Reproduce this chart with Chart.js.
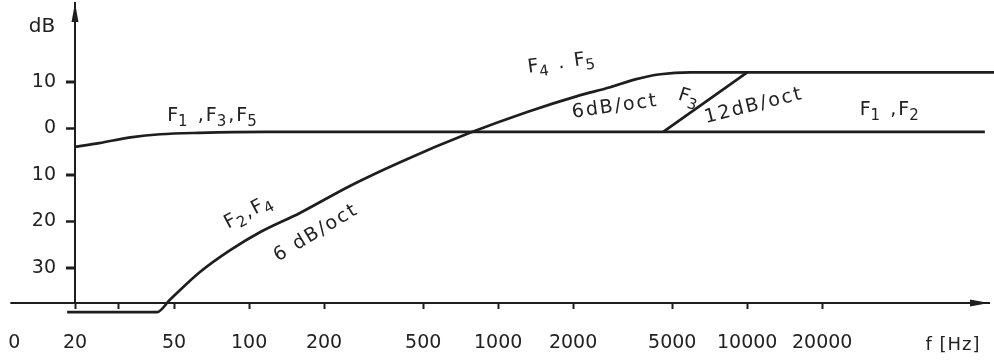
<!DOCTYPE html>
<html>
<head>
<meta charset="utf-8">
<script src="https://cdn.jsdelivr.net/npm/chart.js@4.4.1/dist/chart.umd.min.js"></script>
<style>
    html, body { margin: 0; padding: 0; background: #fff; }
    #wrap { width: 994px; height: 361px; }
</style>
</head>
<body>
<div id="wrap"><canvas id="filterChart"></canvas></div>
<script>
"use strict";

// F1, F3, F5 (continues on the right as F1, F2): slight low-end droop
const shelfFreq = [20, 25, 34, 44, 63, 117, 90000];
const shelfDb = [-4.0, -3.2, -1.9, -1.3, -1.0, -0.8, -0.8];

// F2, F4 rising at 6 dB/oct, levelling off as F4, F5
const riseFreq = [18.6, 42.7, 48, 63.5, 84, 111, 160, 254, 404, 770, 1308, 2078, 2816, 3554, 4480, 5920, 98000];
const riseDb = [-39.5, -39.5, -36.9, -30.9, -26.2, -22.3, -18.2, -12.4, -7.3, -1.0, 3.5, 6.9, 8.8, 10.5, 11.6, 12, 12];

// F3 branch, 12 dB/oct
const f3Freq = [4600, 10000];
const f3Db = [-0.8, 12];

const xTickValues = [11.4, 20, 30, 50, 100, 200, 500, 1000, 2000, 5000, 10000, 20000];
const xTickLabels = ["0", "20", "", "50", "100", "200", "500", "1000", "2000", "5000", "10000", "20000"];
const yTickValues = [-30, -20, -10, 0, 10];

// "_" marks the next character as a subscript
const curveLabels = [
    { text: "F_1 ,F_3,F_5", f: 71.6, db: 2.6, angle: 0 },
    { text: "F_2,F_4", f: 100, db: -18.0, angle: -28 },
    { text: "6 dB/oct", f: 186, db: -22.5, angle: -31 },
    { text: "F_4 . F_5", f: 1806, db: 14.0, angle: -8 },
    { text: "6dB/oct", f: 2950, db: 4.6, angle: -8 },
    { text: "F_3", f: 5860, db: 6.5, angle: 18 },
    { text: "12dB/oct", f: 10640, db: 4.8, angle: -14 },
    { text: "F_1 ,F_2", f: 37500, db: 3.9, angle: 0 }
];

const INK = "#1e1e1e";
const FONT = "'DejaVu Sans', sans-serif";

function toPoints(freqs, values) {
    return freqs.map((f, i) => ({ x: f, y: values[i] }));
}

function curve(label, freqs, values) {
    return {
        label: label,
        data: toPoints(freqs, values),
        borderColor: INK,
        borderWidth: 2.7,
        pointRadius: 0,
        cubicInterpolationMode: "monotone",
        clip: false,
        fill: false
    };
}

function noPadding(scale) {
    scale.paddingLeft = 0;
    scale.paddingRight = 0;
    scale.paddingTop = 0;
    scale.paddingBottom = 0;
}

function splitLabel(text) {
    const parts = [];
    for (let i = 0; i < text.length; i++) {
        if (text[i] === "_" && i + 1 < text.length) {
            parts.push({ t: text[i + 1], sub: true });
            i++;
        } else {
            parts.push({ t: text[i], sub: false });
        }
    }
    return parts;
}

function drawRichText(ctx, text) {
    const parts = splitLabel(text);
    const mainFont = `19px ${FONT}`;
    const subFont = `15px ${FONT}`;
    let width = 0;
    parts.forEach((p, i) => {
        ctx.font = p.sub ? subFont : mainFont;
        p.w = ctx.measureText(p.t).width;
        // subscripts sit tight against their letter
        p.shift = p.sub ? -2 : 0;
        width += p.w + p.shift;
    });
    let cx = -width / 2;
    parts.forEach(p => {
        ctx.font = p.sub ? subFont : mainFont;
        cx += p.shift;
        ctx.fillText(p.t, cx, p.sub ? 6 : 0);
        cx += p.w;
    });
}

const axisDecor = {
    id: "axisDecor",
    afterDraw(chart) {
        const { ctx, chartArea, scales } = chart;
        const x = scales.x;
        const y = scales.y;
        const axisX = x.getPixelForValue(20);
        const axisY = y.getPixelForValue(y.min);

        ctx.save();
        ctx.strokeStyle = INK;
        ctx.fillStyle = INK;

        // x axis continues a little left of the dB axis
        ctx.lineWidth = 2;
        ctx.beginPath();
        ctx.moveTo(x.getPixelForValue(11), axisY);
        ctx.lineTo(axisX, axisY);
        ctx.stroke();

        // dB tick marks
        yTickValues.forEach(v => {
            const py = Math.round(y.getPixelForValue(v)) + 0.5;
            ctx.beginPath();
            ctx.moveTo(axisX - 9, py);
            ctx.lineTo(axisX, py);
            ctx.stroke();
        });

        // arrow heads
        ctx.beginPath();
        ctx.moveTo(axisX, chartArea.top);
        ctx.lineTo(axisX - 3.5, chartArea.top + 19);
        ctx.lineTo(axisX + 3.5, chartArea.top + 19);
        ctx.closePath();
        ctx.fill();

        ctx.beginPath();
        ctx.moveTo(chartArea.right, axisY);
        ctx.lineTo(chartArea.right - 19, axisY - 3.5);
        ctx.lineTo(chartArea.right - 19, axisY + 3.5);
        ctx.closePath();
        ctx.fill();

        // axis titles
        ctx.textAlign = "center";
        ctx.textBaseline = "middle";
        ctx.fillStyle = "#222";
        ctx.font = `20px ${FONT}`;
        ctx.fillText("dB", axisX - 33, chartArea.top + 24);
        ctx.font = `18px ${FONT}`;
        ctx.letterSpacing = "1px";
        ctx.fillText("f [Hz]", chartArea.right - 36, axisY + 42);

        // curve annotations
        ctx.textAlign = "left";
        ctx.letterSpacing = "2px";
        curveLabels.forEach(item => {
            ctx.save();
            ctx.translate(x.getPixelForValue(item.f), y.getPixelForValue(item.db));
            ctx.rotate(item.angle * Math.PI / 180);
            drawRichText(ctx, item.text);
            ctx.restore();
        });

        ctx.restore();
    }
};

document.addEventListener("DOMContentLoaded", () => {
    const canvas = document.getElementById("filterChart");

    new Chart(canvas, {
        type: "line",
        data: {
            datasets: [
                curve("F1, F3, F5", shelfFreq, shelfDb),
                curve("F2, F4", riseFreq, riseDb),
                curve("F3", f3Freq, f3Db)
            ]
        },
        options: {
            responsive: true,
            maintainAspectRatio: false,
            animation: false,
            layout: {
                padding: { left: 0, right: 5, top: 3, bottom: 58 }
            },
            plugins: {
                legend: { display: false },
                tooltip: { enabled: false }
            },
            scales: {
                x: {
                    type: "logarithmic",
                    position: { y: -37.55 },
                    min: 20,
                    max: 93500,
                    afterFit: scale => {
                        scale.height = 0;
                        noPadding(scale);
                    },
                    afterBuildTicks: scale => {
                        scale.ticks = xTickValues.map(v => ({ value: v }));
                    },
                    border: { display: true, color: INK, width: 2 },
                    grid: {
                        drawOnChartArea: false,
                        drawTicks: true,
                        tickLength: 5,
                        tickWidth: 2,
                        tickColor: c => (c.tick && c.tick.value < 15 ? "rgba(0,0,0,0)" : INK)
                    },
                    ticks: {
                        autoSkip: false,
                        maxRotation: 0,
                        padding: 24,
                        color: "#222",
                        font: { family: FONT, size: 19 },
                        callback: (value, index) => xTickLabels[index]
                    }
                },
                y: {
                    type: "linear",
                    position: "left",
                    min: -37.55,
                    max: 26.9,
                    afterFit: scale => {
                        scale.width = 75;
                        noPadding(scale);
                    },
                    afterBuildTicks: scale => {
                        scale.ticks = yTickValues.map(v => ({ value: v }));
                    },
                    border: { display: true, color: INK, width: 2 },
                    grid: {
                        drawOnChartArea: false,
                        drawTicks: true,
                        tickLength: 9,
                        tickWidth: 2,
                        tickColor: INK
                    },
                    ticks: {
                        padding: 10,
                        color: "#222",
                        font: { family: FONT, size: 19 },
                        callback: value => String(Math.abs(value))
                    }
                }
            }
        },
        plugins: [axisDecor]
    });
});
</script>
</body>
</html>
